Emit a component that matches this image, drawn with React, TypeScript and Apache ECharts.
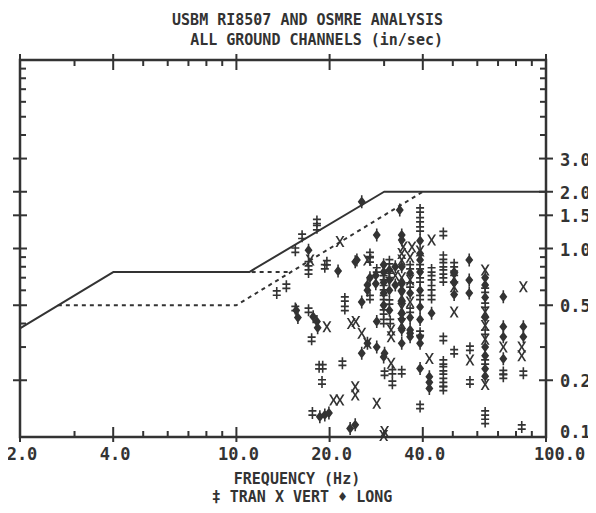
import React, { useEffect, useRef } from "react";
import * as echarts from "echarts";

// ---- Axis ticks / labels ----
const xMajorTicks = [2, 4, 10, 20, 40, 100];
const xMinorTicks = [3, 5, 6, 7, 8, 9, 30, 50, 60, 70, 80, 90];
const xTickLabels = ["2.0", "4.0", "10.0", "20.0", "40.0", "100.0"];
const yMajorTicks = [0.2, 0.5, 1, 1.5, 2, 3];
const yMinorTicks = [0.3, 0.4, 0.6, 0.7, 0.8, 0.9, 4, 5, 6, 7, 8, 9];
const yLabelValues = [0.1, 0.2, 0.5, 1, 1.5, 2, 3];
const yTickLabels = ["0.1", "0.2", "0.5", "1.0", "1.5", "2.0", "3.0"];

// ---- Criteria curves [Hz, in/sec] ----
const osmreCurve = [[2, 0.377], [4, 0.75], [11, 0.75], [30, 2.0], [100, 2.0]];
const ri8507PlasterCurve = [[2.65, 0.5], [10, 0.5], [40, 2.0]];
const ri8507DrywallCurve = [[11.2, 0.75], [14.9, 0.75]];

// ---- Measured peaks [Hz, in/sec] ----
const tranPoints = [
  [18.2, 1.39], [18.2, 1.29], [16.3, 1.16], [15.5, 0.98], [17.1, 0.83], [17.1, 0.75],
  [19.3, 0.8], [19.6, 0.84], [27, 0.87], [27, 0.93], [14.5, 0.63], [13.5, 0.58],
  [15.5, 0.48], [17.1, 0.47], [22.4, 0.54], [22.4, 0.48], [28.4, 0.77],
  [39.2, 1.6], [39.2, 1.42], [39.2, 1.27], [46.6, 1.2],
  [17.5, 0.33], [18.5, 0.236], [19.0, 0.236], [18.9, 0.196], [22.0, 0.246], [17.6, 0.134],
  [30.1, 0.218], [31.9, 0.222], [31.9, 0.193], [34.2, 0.222], [39.2, 0.145],
  [46.6, 0.25], [46.6, 0.23], [46.6, 0.21], [46.6, 0.19], [46.6, 0.181],
  [50.5, 0.283], [56.8, 0.296], [56.8, 0.196], [63.6, 0.134], [63.6, 0.121],
  [84.5, 0.218], [83.5, 0.113],
  [50.5, 0.82], [50.5, 0.74], [46.6, 0.9], [46.6, 0.82], [46.6, 0.75], [46.6, 0.68],
  [42.7, 0.77], [42.7, 0.7], [42.7, 0.62], [42.7, 0.55], [46.6, 0.333], [39.2, 0.355],
  [39.2, 0.8], [39.2, 0.68], [39.2, 0.55], [29.9, 0.41], [31.4, 0.41],
  [29.9, 0.7], [29.9, 0.62], [29.9, 0.55], [29.9, 0.46], [31.2, 0.85], [31.2, 0.72],
  [31.2, 0.52], [36.4, 0.8], [36.4, 0.64], [36.4, 0.47], [27, 0.55],
  [63.6, 0.6], [63.6, 0.5], [63.6, 0.36], [63.6, 0.25], [72.8, 0.22], [72.8, 0.21],
];
const vertPoints = [
  [17.3, 0.87], [21.6, 1.09], [42.7, 1.11], [34.6, 1.02], [36.9, 1.02], [34.2, 0.94],
  [26.5, 0.87], [19.6, 0.385], [20.6, 0.157], [21.6, 0.157], [24.2, 0.185], [24.2, 0.167],
  [26.5, 0.314], [31.6, 0.246], [28.4, 0.151], [30.1, 0.107], [42.0, 0.261], [56.8, 0.256],
  [84.5, 0.627], [50.5, 0.627], [50.5, 0.46], [50.5, 0.7], [63.6, 0.77], [23.5, 0.4],
  [24.3, 0.41], [25.4, 0.355], [31.6, 0.37], [31.6, 0.34], [29.9, 0.102], [39.2, 0.97],
  [72.8, 0.3], [83.5, 0.3], [83.5, 0.27], [63.6, 0.46], [63.6, 0.39], [63.6, 0.33],
  [63.6, 0.19], [34.2, 0.87], [34.2, 0.7], [34.2, 0.56], [34.2, 0.48], [34.2, 0.4],
  [36.4, 0.9], [36.4, 0.68], [36.4, 0.52], [32.6, 0.72],
];
const longPoints = [
  [25.4, 1.77], [17.1, 0.98], [21.3, 0.76], [24.2, 0.85], [28.4, 1.18], [33.7, 1.6],
  [26.5, 0.64], [26.5, 0.6], [25.4, 0.52], [34.2, 1.18], [39.2, 0.94], [24.5, 0.87],
  [15.6, 0.47], [15.8, 0.43], [17.7, 0.435], [18.2, 0.41], [18.3, 0.38],
  [18.6, 0.128], [19.3, 0.131], [19.9, 0.134], [23.3, 0.111], [24.2, 0.116],
  [25.4, 0.278], [28.4, 0.3], [30.1, 0.278], [29.9, 0.266], [39.2, 0.231],
  [42, 0.209], [42, 0.195], [42, 0.181], [72.8, 0.555], [56.5, 0.87], [56.5, 0.68],
  [56.5, 0.58], [50.5, 0.57], [50.5, 0.66], [50.5, 0.75], [42.7, 0.454], [39.2, 0.49],
  [39.2, 0.42], [39.2, 0.34], [39.2, 0.314], [36.4, 0.355], [34.2, 1.11], [39.2, 1.1],
  [39.2, 0.87], [39.2, 0.75], [39.2, 0.6], [72.8, 0.385], [72.8, 0.34], [72.8, 0.26],
  [84.5, 0.385], [84.5, 0.34], [34.2, 0.314], [36.4, 0.34], [34.2, 0.42], [34.2, 0.37],
  [36.4, 0.43], [36.4, 0.37], [26.5, 0.314], [28.4, 0.41],
  [29.9, 0.82], [29.9, 0.75], [29.9, 0.66], [29.9, 0.58], [29.9, 0.5], [31.2, 0.77],
  [31.2, 0.68], [31.2, 0.6], [31.2, 0.47], [32.6, 0.8], [32.6, 0.64], [34.2, 0.8],
  [34.2, 0.65], [34.2, 0.6], [34.2, 0.52], [34.2, 0.45], [36.4, 0.74], [36.4, 0.58],
  [27, 0.7], [28.2, 0.72], [28.2, 0.65],
  [63.6, 0.7], [63.6, 0.64], [63.6, 0.55], [63.6, 0.43], [63.6, 0.3], [63.6, 0.27],
  [63.6, 0.23], [63.6, 0.21],
];

const legendText = "\u2021 TRAN X VERT \u2666 LONG";

const INK = "#333333";
const FONT = 'bold 15px "DejaVu Sans Mono", "Liberation Mono", monospace';
const TICK_FONT = 'bold 17px "DejaVu Sans Mono", "Liberation Mono", monospace';

const TRAN_SYMBOL = "path://M4,0H6V14H4Z M0,3.5H10V5.5H0Z M0,8.5H10V10.5H0Z";
const VERT_SYMBOL =
  "path://M0,0L2.2,0L5,4.6L7.8,0L10,0L6.2,6L10,12L7.8,12L5,7.4L2.2,12L0,12L3.8,6Z";
const LONG_SYMBOL =
  "path://M4.2,0L5.8,0L5.8,2.5L9,7L5.8,11.5L5.8,14L4.2,14L4.2,11.5L1,7L4.2,2.5Z";

function tickLine(x1: number, y1: number, x2: number, y2: number) {
  return {
    type: "line",
    shape: { x1, y1, x2, y2 },
    style: { stroke: INK, lineWidth: 2 },
  };
}

export default function App() {
  const ref = useRef<HTMLDivElement>(null);

  useEffect(() => {
    if (!ref.current) return;
    const chart = echarts.init(ref.current, null, { renderer: "svg" });

    const xTickSeries = (values: number[], major: boolean) => ({
      type: "custom",
      silent: true,
      clip: false,
      z: 10,
      data: values.map((v) => [v, 1]),
      renderItem: (params: any, api: any) => {
        const cs = params.coordSys;
        const x = api.coord([api.value(0), 1])[0];
        const top = cs.y;
        const bottom = cs.y + cs.height;
        const children = major
          ? [tickLine(x, bottom + 5, x, bottom - 10), tickLine(x, top - 6, x, top + 10)]
          : [tickLine(x, bottom, x, bottom - 6), tickLine(x, top, x, top + 6)];
        return { type: "group", children };
      },
    });

    const yTickSeries = (values: number[], major: boolean) => ({
      type: "custom",
      silent: true,
      clip: false,
      z: 10,
      data: values.map((v) => [2, v]),
      renderItem: (params: any, api: any) => {
        const cs = params.coordSys;
        const y = api.coord([2, api.value(1)])[1];
        const left = cs.x;
        const right = cs.x + cs.width;
        const children = major
          ? [tickLine(left - 7, y, left + 7, y), tickLine(right + 7, y, right - 7, y)]
          : [tickLine(left, y, left + 6, y), tickLine(right - 6, y, right, y)];
        return { type: "group", children };
      },
    });

    const xLabelSeries = {
      type: "custom",
      silent: true,
      clip: false,
      z: 10,
      data: xMajorTicks.map((v) => [v, 1]),
      renderItem: (params: any, api: any) => {
        const cs = params.coordSys;
        const x = api.coord([api.value(0), 1])[0];
        const last = params.dataIndex === xMajorTicks.length - 1;
        return {
          type: "text",
          x: last ? x - 12 : x + 2,
          y: cs.y + cs.height + 17,
          style: {
            text: xTickLabels[params.dataIndex],
            font: TICK_FONT,
            fill: INK,
            align: last ? "left" : "center",
            verticalAlign: "middle",
          },
        };
      },
    };

    const yLabelSeries = {
      type: "custom",
      silent: true,
      clip: false,
      z: 10,
      data: yLabelValues.map((v) => [2, v]),
      renderItem: (params: any, api: any) => {
        const cs = params.coordSys;
        const y = api.coord([2, api.value(1)])[1];
        const first = params.dataIndex === 0;
        return {
          type: "text",
          x: cs.x + cs.width + 14,
          y: first ? y - 5 : y + 1,
          style: {
            text: yTickLabels[params.dataIndex],
            font: TICK_FONT,
            fill: INK,
            align: "left",
            verticalAlign: "middle",
          },
        };
      },
    };

    const scatter = (name: string, data: number[][], symbol: string, size: number[]) => ({
      name,
      type: "scatter",
      data,
      symbol,
      symbolSize: size,
      itemStyle: { color: INK, opacity: 1 },
      z: 5,
    });

    chart.setOption({
      animation: false,
      backgroundColor: "#ffffff",
      grid: {
        left: 20,
        right: 50,
        top: 60,
        bottom: 76,
        show: true,
        borderColor: INK,
        borderWidth: 2.5,
        backgroundColor: "transparent",
      },
      xAxis: {
        type: "log",
        logBase: 10,
        min: 2,
        max: 100,
        axisLine: { show: false },
        axisTick: { show: false },
        axisLabel: { show: false },
        splitLine: { show: false },
        minorTick: { show: false },
      },
      yAxis: {
        type: "log",
        logBase: 10,
        min: 0.1,
        max: 10,
        axisLine: { show: false },
        axisTick: { show: false },
        axisLabel: { show: false },
        splitLine: { show: false },
        minorTick: { show: false },
      },
      graphic: [
        {
          type: "text",
          x: 443,
          y: 20,
          style: {
            text: "USBM RI8507 AND OSMRE ANALYSIS",
            font: FONT,
            fill: INK,
            align: "right",
            verticalAlign: "middle",
          },
        },
        {
          type: "text",
          x: 443,
          y: 40,
          style: {
            text: "ALL GROUND CHANNELS (in/sec)",
            font: FONT,
            fill: INK,
            align: "right",
            verticalAlign: "middle",
          },
        },
        {
          type: "text",
          x: 297,
          y: 479,
          style: {
            text: "FREQUENCY (Hz)",
            font: FONT,
            fill: INK,
            align: "center",
            verticalAlign: "middle",
          },
        },
        {
          type: "text",
          x: 302,
          y: 497,
          style: {
            text: legendText,
            font: FONT,
            fill: INK,
            align: "center",
            verticalAlign: "middle",
          },
        },
      ],
      series: [
        {
          name: "OSMRE",
          type: "line",
          data: osmreCurve,
          showSymbol: false,
          lineStyle: { color: INK, width: 2 },
          z: 3,
        },
        {
          name: "RI8507 plaster",
          type: "line",
          data: ri8507PlasterCurve,
          showSymbol: false,
          lineStyle: { color: INK, width: 2, type: [4, 4] },
          z: 3,
        },
        {
          name: "RI8507 drywall",
          type: "line",
          data: ri8507DrywallCurve,
          showSymbol: false,
          lineStyle: { color: INK, width: 2, type: [4, 4] },
          z: 3,
        },
        scatter("TRAN", tranPoints, TRAN_SYMBOL, [8, 12]),
        scatter("VERT", vertPoints, VERT_SYMBOL, [9, 11]),
        scatter("LONG", longPoints, LONG_SYMBOL, [8, 13]),
        xTickSeries(xMajorTicks, true),
        xTickSeries(xMinorTicks, false),
        yTickSeries(yMajorTicks, true),
        yTickSeries(yMinorTicks, false),
        xLabelSeries,
        yLabelSeries,
      ],
    });

    return () => chart.dispose();
  }, []);

  return <div ref={ref} style={{ width: 596, height: 513, margin: -8 }} />;
}
